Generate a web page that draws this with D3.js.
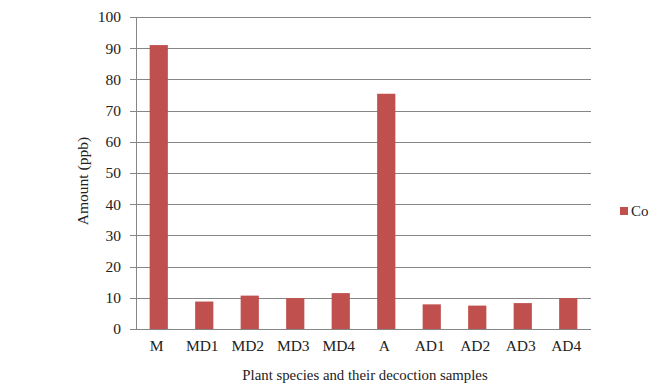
<!DOCTYPE html>
<html>
<head>
<meta charset="utf-8">
<script src="https://cdn.jsdelivr.net/npm/d3@7"></script>
<style>
  body { margin: 0; background: #fff; }
  text { font-family: "Liberation Serif", "DejaVu Serif", serif; fill: #222; }
</style>
</head>
<body>
<div id="chart"></div>
<script>
// data
var categories = ['M', 'MD1', 'MD2', 'MD3', 'MD4', 'A', 'AD1', 'AD2', 'AD3', 'AD4'];
var coValues = [91.0, 8.8, 10.7, 9.9, 11.5, 75.4, 7.9, 7.5, 8.3, 9.9];
var yTicks = [0, 10, 20, 30, 40, 50, 60, 70, 80, 90, 100];

var width = 668, height = 386;
var margin = {top: 17, right: 77, bottom: 57, left: 136};

var svg = d3.select('#chart').append('svg')
  .attr('width', width)
  .attr('height', height);

var x = d3.scaleBand()
  .domain(categories)
  .range([margin.left, width - margin.right])
  .paddingInner(0.6)
  .paddingOuter(0.3);

var y = d3.scaleLinear()
  .domain([0, 100])
  .range([height - margin.bottom, margin.top]);

// gridlines
svg.append('g')
  .selectAll('line')
  .data(yTicks).enter()
  .append('line')
  .attr('x1', margin.left - 6)
  .attr('x2', width - margin.right)
  .attr('y1', function (d) { return Math.round(y(d)) + 0.5; })
  .attr('y2', function (d) { return Math.round(y(d)) + 0.5; })
  .attr('stroke', '#868686')
  .attr('stroke-width', 1);

// y axis line
svg.append('line')
  .attr('x1', margin.left + 0.5)
  .attr('x2', margin.left + 0.5)
  .attr('y1', y(100))
  .attr('y2', y(0))
  .attr('stroke', '#868686');

// y tick labels
svg.append('g')
  .selectAll('text')
  .data(yTicks).enter()
  .append('text')
  .attr('x', margin.left - 15)
  .attr('y', function (d) { return y(d); })
  .attr('dy', '0.35em')
  .attr('text-anchor', 'end')
  .style('font-size', '15.5px')
  .text(function (d) { return d; });

// bars
svg.selectAll('.bar')
  .data(coValues).enter()
  .append('rect')
  .attr('class', 'bar')
  .attr('x', function (d, i) { return x(categories[i]); })
  .attr('width', x.bandwidth())
  .attr('y', function (d) { return y(d); })
  .attr('height', function (d) { return y(0) - y(d); })
  .attr('fill', '#C0504D');

// x category labels
svg.append('g')
  .selectAll('text')
  .data(categories).enter()
  .append('text')
  .attr('x', function (d) { return x(d) + x.bandwidth() / 2 - 2; })
  .attr('y', y(0) + 22)
  .attr('text-anchor', 'middle')
  .style('font-size', '15.5px')
  .text(function (d) { return d; });

// axis titles
svg.append('text')
  .attr('x', 365)
  .attr('y', 380)
  .attr('text-anchor', 'middle')
  .style('font-size', '14.8px')
  .text('Plant species and their decoction samples');

svg.append('text')
  .attr('transform', 'translate(88,' + 181 + ') rotate(-90)')
  .attr('text-anchor', 'middle')
  .style('font-size', '15.5px')
  .text('Amount (ppb)');

// legend
var legend = svg.append('g').attr('transform', 'translate(620,207)');
legend.append('rect')
  .attr('width', 8)
  .attr('height', 8)
  .attr('fill', '#C0504D');
legend.append('text')
  .attr('x', 11)
  .attr('y', 8.5)
  .style('font-size', '15px')
  .text('Co');
</script>
</body>
</html>
